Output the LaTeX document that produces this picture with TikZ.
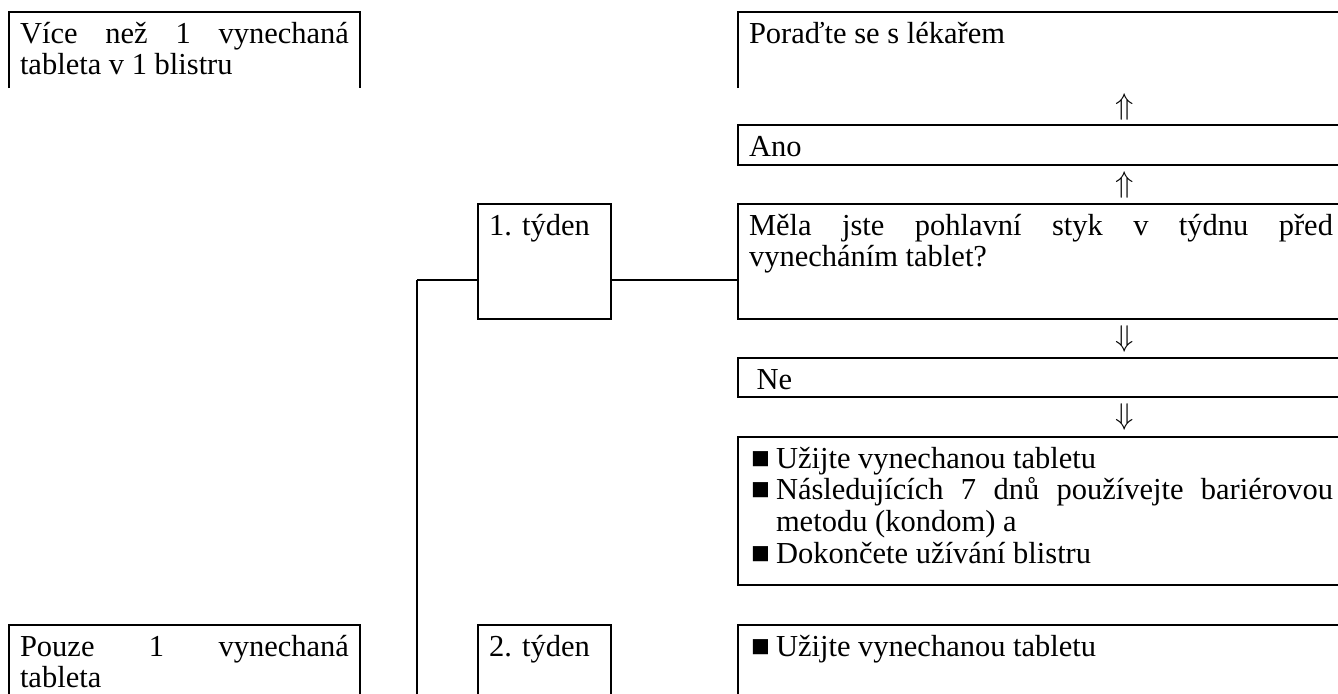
\documentclass[tikz,border=0pt]{standalone}
\usepackage{fontspec}
\setmainfont{Liberation Serif}
\usetikzlibrary{positioning}

\newdimen\pix \pix=0.4pt
\newcommand\cellbody[3]{\parbox[t][#2\pix][t]{#1\pix}{\vspace*{9\pix}#3}}
\newcommand\bull{{\fontsize{12.5}{12.5}\selectfont ■}}
\newcommand\itm[1]{\par\hangindent=27\pix\hangafter=1\noindent\makebox[27\pix][l]{\hspace*{2\pix}\bull}\strut#1}

\begin{document}
\begin{tikzpicture}[x=0.4pt,y=-0.4pt,line width=2.2\pix,
    every node/.style={font=\fontsize{12.2}{12.7}\selectfont},
    cell/.style={draw,rectangle,anchor=north west,inner xsep=11\pix,inner ysep=0pt,outer sep=0pt},
    open cell/.style={cell,draw=none},
    glyph/.style={inner sep=0pt}]
    \useasboundingbox (0,0) rectangle (1338,693);
    \clip (0,0) rectangle (1338,693);

    \node[open cell] (more) at (9,12) {\cellbody{329}{76}{\strut Více než 1 vynechaná\linebreak tableta v 1 blistru}};
    \node[open cell] (ask) at (738,12) {\cellbody{584}{76}{\strut Poraďte se s lékařem}};
    \node[cell] (yes) [below=37\pix of ask.south west,anchor=north west] {\cellbody{584}{40}{\strut Ano}};
    \node[cell] (sex) [below=39\pix of yes.south west,anchor=north west] {\cellbody{584}{115}{\strut Měla jste pohlavní styk v týdnu před\linebreak vynecháním tablet?}};
    \node[cell] (wk1) [left=127\pix of sex.north west,anchor=north east] {\cellbody{111}{115}{\strut 1. týden}};
    \node[cell] (no) [below=39\pix of sex.south west,anchor=north west] {\cellbody{584}{39}{\strut\hspace*{0.25em}Ne}};
    \node[cell] (act1) [below=40\pix of no.south west,anchor=north west] {\cellbody{584}{148}{%
        \itm{Užijte vynechanou tabletu}%
        \itm{Následujících 7 dnů používejte bariérovou\linebreak metodu (kondom) a}%
        \itm{Dokončete užívání blistru}}};
    \node[cell] (act2) [below=40\pix of act1.south west,anchor=north west] {\cellbody{584}{120}{\itm{Užijte vynechanou tabletu}}};
    \node[cell] (wk2) [left=127\pix of act2.north west,anchor=north east] {\cellbody{111}{120}{\strut 2. týden}};
    \node[cell] (one) [left=118\pix of wk2.north west,anchor=north east] {\cellbody{329}{120}{\strut Pouze 1 vynechaná\linebreak tableta}};

    \draw (more.south west) |- (more.north east) -- (more.south east);
    \draw (ask.south west) |- (ask.north east) -- (ask.south east);

    \node[glyph] (up1) at (1125,107) {$\Uparrow$};
    \node[glyph] (up2) at (1125,185) {$\Uparrow$};
    \node[glyph] (down1) at (1125,339) {$\Downarrow$};
    \node[glyph] (down2) at (1125,417) {$\Downarrow$};

    \coordinate (fork) at (417,280);
    \coordinate (foot) at (417,700);
    \draw (fork) -- (fork -| wk1.west);
    \draw (fork -| wk1.east) -- (fork -| sex.west);
    \draw (fork) -- (foot);
\end{tikzpicture}
\end{document}
